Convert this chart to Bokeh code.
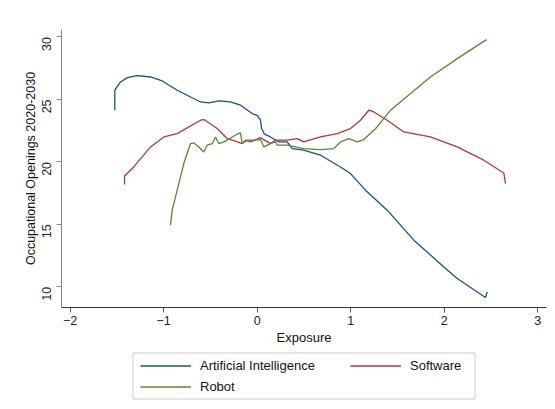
import math
from bokeh.plotting import figure
from bokeh.layouts import column
from bokeh.models import (ColumnDataSource, Legend, LegendItem, FixedTicker, Range1d,
                          BoxAnnotation)
from bokeh.embed import file_html
from bokeh.resources import INLINE

# Exposure (x) and occupational openings (y) for each technology series
ai_x = [-1.523, -1.523, -1.462, -1.390, -1.283, -1.141, -1.016, -0.856, -0.713, -0.606,
        -0.518, -0.411, -0.286, -0.179, -0.053, 0.003, 0.035, 0.046, 0.078, 0.142,
        0.228, 0.321, 0.374, 0.495, 0.677, 0.891, 0.998, 1.158, 1.390, 1.675,
        1.996, 2.139, 2.442, 2.460]
ai_y = [24.14, 25.74, 26.40, 26.75, 26.91, 26.80, 26.48, 25.74, 25.20, 24.80,
        24.72, 24.88, 24.80, 24.54, 23.87, 23.70, 23.34, 22.70, 22.22, 22.00,
        21.60, 21.60, 21.07, 20.94, 20.54, 19.60, 19.07, 17.74, 16.14, 13.74,
        11.60, 10.67, 9.15, 9.60]

sw_x = [-1.419, -1.419, -1.320, -1.141, -0.999, -0.856, -0.606, -0.570, -0.428, -0.321,
        -0.267, -0.160, -0.125, -0.072, 0.035, 0.142, 0.196, 0.321, 0.428, 0.498,
        0.677, 0.856, 0.998, 1.105, 1.194, 1.247, 1.390, 1.568, 1.853, 2.139,
        2.424, 2.637, 2.656]
sw_y = [18.19, 18.88, 19.60, 21.20, 22.00, 22.27, 23.34, 23.39, 22.67, 21.87,
        21.74, 21.47, 21.74, 21.60, 21.95, 21.47, 21.74, 21.74, 21.87, 21.60,
        22.00, 22.27, 22.67, 23.34, 24.14, 24.00, 23.34, 22.40, 22.00, 21.20,
        20.14, 19.12, 18.27]

rb_x = [-0.927, -0.909, -0.856, -0.785, -0.713, -0.678, -0.625, -0.571, -0.535, -0.481,
        -0.446, -0.411, -0.357, -0.321, -0.267, -0.214, -0.179, -0.160, -0.107, -0.036,
        0.035, 0.071, 0.142, 0.196, 0.214, 0.321, 0.498, 0.677, 0.819, 0.891,
        0.980, 1.070, 1.140, 1.283, 1.426, 1.640, 1.853, 2.139, 2.452]
rb_y = [14.94, 16.14, 17.74, 19.87, 21.47, 21.52, 21.20, 20.80, 21.34, 21.47,
        22.00, 21.47, 21.60, 21.74, 22.00, 22.22, 22.32, 21.47, 21.74, 21.74,
        21.79, 21.20, 21.47, 21.60, 21.34, 21.34, 21.07, 20.99, 21.07, 21.60,
        21.87, 21.60, 21.79, 22.80, 24.14, 25.47, 26.80, 28.27, 29.79]

x_ticks = [-2, -1, 0, 1, 2, 3]
y_ticks = [10, 15, 20, 25, 30]

series_names = ["Artificial Intelligence", "Software", "Robot"]
series_colors = ["#1f4e7a", "#a43a46", "#5c8535"]

FONT = "Liberation Sans"

sources = {n: ColumnDataSource(dict(x=xs, y=ys))
           for n, xs, ys in zip(series_names, [ai_x, sw_x, rb_x], [ai_y, sw_y, rb_y])}

# ---- main chart -------------------------------------------------------------
p = figure(width=555, height=349, output_backend="svg", toolbar_location=None,
           x_range=Range1d(-2.093, 3.094), y_range=Range1d(8.35, 30.6),
           min_border_left=61, min_border_right=9, min_border_top=29,
           min_border_bottom=42)
p.outline_line_color = None
p.xgrid.visible = False
p.ygrid.visible = False
p.background_fill_color = "white"
p.border_fill_color = "white"

for n, c in zip(series_names, series_colors):
    p.line("x", "y", source=sources[n], line_color=c, line_width=1.3)

p.xaxis.ticker = FixedTicker(ticks=x_ticks)
p.yaxis.ticker = FixedTicker(ticks=y_ticks)
for ax in (p.xaxis[0], p.yaxis[0]):
    ax.minor_tick_line_color = None
    ax.major_tick_out = 5
    ax.major_tick_in = 0
    ax.major_label_text_font = FONT
    ax.major_label_text_font_size = "12.5px"
    ax.major_label_text_color = "#222222"
    ax.axis_label_text_font = FONT
    ax.axis_label_text_font_style = "normal"
    ax.axis_label_text_color = "#111111"

p.xaxis.axis_label = "Exposure"
p.xaxis.axis_label_text_font_size = "13px"
p.xaxis.axis_line_color = "#333333"
p.xaxis.major_tick_line_color = "#555555"
p.xaxis.major_label_standoff = 3
p.xaxis.axis_label_standoff = 2

p.yaxis.axis_label = "Occupational Openings 2020-2030"
p.yaxis.axis_label_text_font_size = "12.5px"
p.yaxis.axis_line_color = "#888888"
p.yaxis.major_tick_line_color = "#888888"
p.yaxis.major_label_orientation = math.pi / 2
p.yaxis.major_label_standoff = 10
p.yaxis.axis_label_standoff = -3

# ---- legend strip under the chart (pixel coordinates across the page) ------
leg = figure(width=555, height=60, output_backend="svg", toolbar_location=None,
             x_range=Range1d(61, 546), y_range=Range1d(60, 0),
             x_axis_type=None, y_axis_type=None,
             min_border_left=61, min_border_right=9, min_border_top=0,
             min_border_bottom=0)
leg.outline_line_color = None
leg.xgrid.visible = False
leg.ygrid.visible = False
leg.background_fill_color = "white"
leg.border_fill_color = "white"

# key lines share each series' source; their data sit outside this strip's ranges
keys = {}
for n, c in zip(series_names, series_colors):
    keys[n] = leg.line("x", "y", source=sources[n], line_color=c, line_width=1.3)

leg.add_layout(BoxAnnotation(left=132.5, right=474.5, top=3.5, bottom=49.5,
                             fill_color=None, line_color="#555555", line_width=1))


def make_legend(names, loc):
    return Legend(items=[LegendItem(label=n, renderers=[keys[n]]) for n in names],
                  location=loc, orientation="vertical",
                  label_text_font=FONT, label_text_font_size="13px",
                  label_text_color="#111111",
                  glyph_width=51, glyph_height=21, label_height=21,
                  label_standoff=9, spacing=0, padding=0, margin=0,
                  border_line_color=None, background_fill_alpha=0)


leg.add_layout(make_legend(["Artificial Intelligence", "Robot"], (140 - 61, 12.5)), "center")
leg.add_layout(make_legend(["Software"], (350 - 61, 33.5)), "center")

layout = column(p, leg, spacing=0)
open("out.html", "w").write(file_html(layout, INLINE))
